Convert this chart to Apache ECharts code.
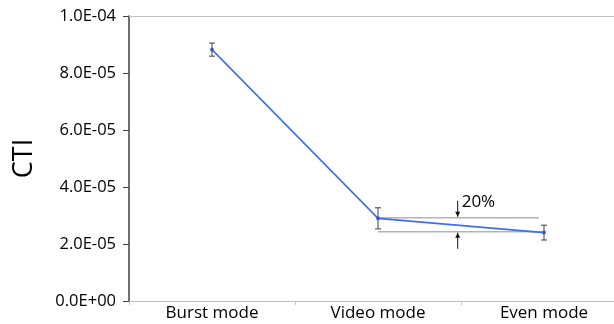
<!DOCTYPE html>
<html><head><meta charset="utf-8">
<script src="https://cdn.jsdelivr.net/npm/echarts@6/dist/echarts.min.js"></script>
<style>html,body{margin:0;padding:0;background:#fff;overflow:hidden}#c{width:640px;height:324px}</style>
</head><body><div id="c"></div>
<script>
const categories = ['Burst mode', 'Video mode', 'Even mode'];
const ctiValues = [8.82e-5, 2.90e-5, 2.40e-5];
const ctiErrors = [2.3e-6, 3.7e-6, 2.6e-6];
const refLevels = [2.92e-5, 2.43e-5];
const refFrom = 1, refTo = 2;
const arrowPos = 0.48; // fraction between refFrom and refTo
const arrowLabel = '20%';
const yTicks = { min: 0, max: 1e-4, interval: 2e-5 };

function fmt(v) {
  if (v === 0) return '0.0E+00';
  const e = Math.floor(Math.log10(Math.abs(v)) + 1e-9);
  const m = v / Math.pow(10, e);
  const sign = e < 0 ? '-' : '+';
  const ae = Math.abs(e);
  return m.toFixed(1) + 'E' + sign + (ae < 10 ? '0' + ae : ae);
}

const font = '"Open Sans", "Noto Sans", sans-serif';
const chart = echarts.init(document.getElementById('c'));
chart.setOption({
  animation: false,
  grid: { left: 129, top: 16, right: 13, bottom: 23 },
  xAxis: [{
    type: 'category', data: categories, boundaryGap: true,
    axisLine: { lineStyle: { color: '#c0c0c0', width: 1 } },
    axisTick: { show: true, length: 4, lineStyle: { color: '#c8c8c8' } },
    axisLabel: { color: '#000', fontSize: 17, fontFamily: font, margin: 4 },
    splitLine: { show: false }
  }, {
    type: 'category', data: categories, position: 'top',
    axisLine: { lineStyle: { color: '#c0c0c0', width: 1 } },
    axisTick: { show: false }, axisLabel: { show: false }
  }],
  yAxis: {
    type: 'value', min: yTicks.min, max: yTicks.max, interval: yTicks.interval,
    name: 'CTI', nameLocation: 'middle', nameGap: 91, nameRotate: 90,
    nameTextStyle: { fontSize: 27, color: '#000', fontFamily: font },
    axisLine: { show: true, lineStyle: { color: '#404040', width: 1.5 } },
    axisTick: { show: true, length: 6, lineStyle: { color: '#404040' } },
    axisLabel: { formatter: fmt, color: '#000', fontSize: 16.5, fontFamily: font, margin: 13 },
    splitLine: { show: false }
  },
  series: [{
    type: 'custom', xAxisIndex: 0, z: 1,
    data: [0],
    renderItem: function (params, api) {
      const children = [];
      const xa0 = api.coord([refFrom, refLevels[0]]);
      const xb0 = api.coord([refTo, refLevels[0]]);
      const xa1 = api.coord([refFrom, refLevels[1]]);
      const xb1 = api.coord([refTo, refLevels[1]]);
      const gray = { stroke: '#b4b4b4', lineWidth: 1.6 };
      children.push({ type: 'line', shape: { x1: xa0[0], y1: xa0[1], x2: xb0[0] - 5, y2: xb0[1] }, style: gray });
      children.push({ type: 'line', shape: { x1: xa1[0], y1: xa1[1], x2: xb1[0], y2: xb1[1] }, style: gray });
      const ax = xa0[0] + (xb0[0] - xa0[0]) * arrowPos;
      const y0 = xa0[1], y1 = xa1[1];
      const blk = { stroke: '#111', lineWidth: 1 };
      children.push({ type: 'line', shape: { x1: ax, y1: y0 - 17, x2: ax, y2: y0 - 1 }, style: blk });
      children.push({ type: 'polygon', shape: { points: [[ax - 2.5, y0 - 6], [ax + 2.5, y0 - 6], [ax, y0 - 1]] }, style: { fill: '#111' } });
      children.push({ type: 'line', shape: { x1: ax, y1: y1 + 17, x2: ax, y2: y1 + 1 }, style: blk });
      children.push({ type: 'polygon', shape: { points: [[ax - 2.5, y1 + 6], [ax + 2.5, y1 + 6], [ax, y1 + 1]] }, style: { fill: '#111' } });
      children.push({ type: 'text', x: ax + 4, y: y0 - 16, style: { text: arrowLabel, fill: '#000', font: '17px ' + font, textVerticalAlign: 'middle', textAlign: 'left' } });
      return { type: 'group', children: children };
    }
  }, {
    type: 'line', xAxisIndex: 0, data: ctiValues, z: 3,
    symbol: 'circle', symbolSize: 4,
    lineStyle: { color: '#3d6ef5', width: 1.6 },
    itemStyle: { color: '#3d6ef5' }
  }, {
    type: 'custom', xAxisIndex: 0, z: 4,
    data: ctiValues.map((v, i) => [i, v, ctiErrors[i]]),
    renderItem: function (params, api) {
      const x = api.value(0), y = api.value(1), e = api.value(2);
      const p = api.coord([x, y + e]), q = api.coord([x, y - e]);
      const st = { stroke: '#404040', lineWidth: 1 };
      return { type: 'group', children: [
        { type: 'line', shape: { x1: p[0], y1: p[1], x2: q[0], y2: q[1] }, style: st },
        { type: 'line', shape: { x1: p[0] - 3, y1: p[1], x2: p[0] + 3, y2: p[1] }, style: st },
        { type: 'line', shape: { x1: q[0] - 3, y1: q[1], x2: q[0] + 3, y2: q[1] }, style: st }
      ] };
    }
  }]
});
</script></body></html>
